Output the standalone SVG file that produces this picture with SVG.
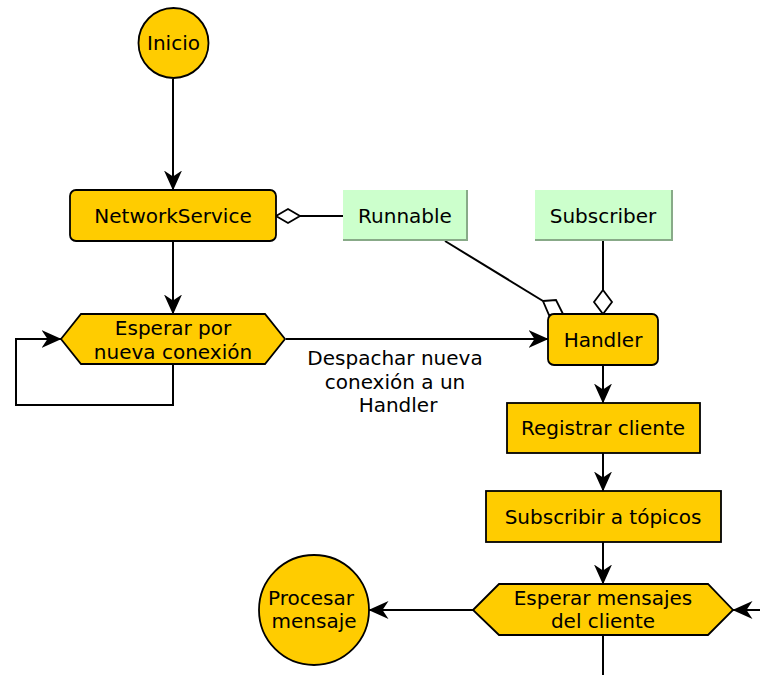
<svg xmlns="http://www.w3.org/2000/svg" width="760" height="675" viewBox="0 0 760 675">
<defs>
<marker id="arr" viewBox="0 0 20 18" refX="19.5" refY="9" markerWidth="20" markerHeight="18" markerUnits="userSpaceOnUse" orient="auto">
<path d="M0,0 L20,9 L0,18 L6,9 Z" fill="#000"/>
</marker>
<style>
.n{fill:#ffcc00;stroke:#000;stroke-width:1.8}
.g{fill:#ccffcc}
.sh{fill:none;stroke:#88aa88;stroke-width:2}
.c{fill:none;stroke:#000;stroke-width:2}
.d{fill:#fff;stroke:#000;stroke-width:1.8}
text{font-family:"DejaVu Sans",sans-serif;font-size:20px;fill:#000;text-anchor:middle}
</style>
</defs>
<rect width="760" height="675" fill="#fff"/>
<g id="connectors">
<path class="c" d="M173,79 L173,190" marker-end="url(#arr)"/>
<path class="c" d="M173,241 L173,314" marker-end="url(#arr)"/>
<path class="c" d="M300,216 L343,216"/>
<polygon class="d" points="276,216 288,209 300,216 288,223"/>
<path class="c" d="M173,364 L173,405 L16,405 L16,339 L61,339" marker-end="url(#arr)"/>
<path class="c" d="M286,339 L548,339" marker-end="url(#arr)"/>
<path class="c" d="M445,241 L543,301"/>
<polygon class="d" points="543,301 556,300 563,314 549,315"/>
<path class="c" d="M603,241 L603,290"/>
<polygon class="d" points="603,290 612,302 603,314 594,302"/>
<path class="c" d="M603,365 L603,403" marker-end="url(#arr)"/>
<path class="c" d="M603,453 L603,491" marker-end="url(#arr)"/>
<path class="c" d="M603,542 L603,584" marker-end="url(#arr)"/>
<path class="c" d="M473,610 L369,610" marker-end="url(#arr)"/>
<path class="c" d="M760,610 L733,610" marker-end="url(#arr)"/>
<path class="c" d="M603,635 L603,675"/>
<text x="395" y="365">Despachar nueva</text>
<text x="395" y="389">conexión a un</text>
<text x="398" y="412">Handler</text>
</g>
<g id="inicio">
<circle class="n" cx="173.5" cy="43" r="35"/>
<text x="173.5" y="50">Inicio</text>
</g>
<g id="networkservice">
<rect class="n" x="70" y="190" width="206" height="51" rx="6"/>
<text x="173" y="223">NetworkService</text>
</g>
<g id="runnable">
<rect class="g" x="343" y="190" width="125" height="51"/>
<path class="sh" d="M467,190 L467,240 L343,240"/>
<text x="405" y="223">Runnable</text>
</g>
<g id="subscriber">
<rect class="g" x="535" y="190" width="138" height="51"/>
<path class="sh" d="M672,190 L672,240 L535,240"/>
<text x="603" y="223">Subscriber</text>
</g>
<g id="esperar-conexion">
<polygon class="n" points="61,339 81,314 265,314 285,339 265,364 81,364"/>
<text x="173" y="335">Esperar por</text>
<text x="173" y="359">nueva conexión</text>
</g>
<g id="handler">
<rect class="n" x="548" y="314" width="110" height="51" rx="6"/>
<text x="603" y="347">Handler</text>
</g>
<g id="registrar">
<rect class="n" x="507" y="403" width="193" height="50"/>
<text x="603" y="435">Registrar cliente</text>
</g>
<g id="subscribir">
<rect class="n" x="486" y="491" width="235" height="51"/>
<text x="603" y="524">Subscribir a tópicos</text>
</g>
<g id="esperar-mensajes">
<polygon class="n" points="473,610 499,584 708,584 733,610 708,635 499,635"/>
<text x="603" y="605">Esperar mensajes</text>
<text x="603" y="628">del cliente</text>
</g>
<g id="procesar">
<circle class="n" cx="314" cy="610" r="55"/>
<text x="311" y="605">Procesar </text>
<text x="314" y="628">mensaje</text>
</g>
</svg>
